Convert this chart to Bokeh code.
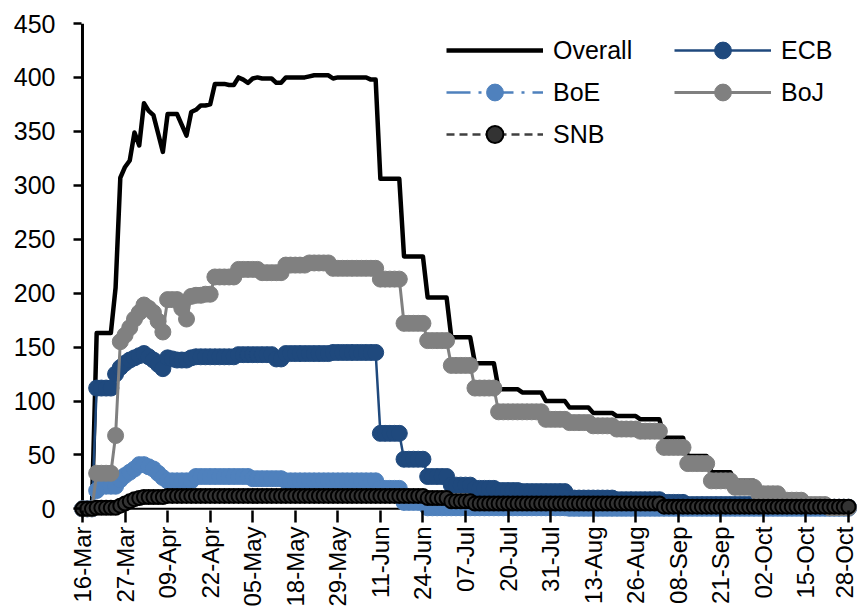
import numpy as np
from bokeh.plotting import figure
from bokeh.models import Range1d, FixedTicker, Span, Legend, LegendItem
from bokeh.embed import file_html
from bokeh.resources import INLINE

# x axis: business days from 16-Mar to 28-Oct (163 days), labelled every 9th day
tick_labels = ["16-Mar", "27-Mar", "09-Apr", "22-Apr", "05-May", "18-May", "29-May",
               "11-Jun", "24-Jun", "07-Jul", "20-Jul", "31-Jul", "13-Aug", "26-Aug",
               "08-Sep", "21-Sep", "02-Oct", "15-Oct", "28-Oct"]
y_ticks = [0, 50, 100, 150, 200, 250, 300, 350, 400, 450]

overall = [0, 0, 0, 163, 163, 163, 163, 205, 307, 317,
           323, 349, 337, 376, 369, 365, 348, 331, 366, 366,
           366, 356, 346, 368, 370, 374, 374, 375, 394, 394,
           394, 393, 393, 400, 398, 395, 399, 400, 399, 399,
           399, 395, 395, 400, 400, 400, 400, 400, 401, 402,
           402, 402, 402, 399, 400, 400, 400, 400, 400, 400,
           400, 398, 398, 306, 306, 306, 306, 306, 234, 234,
           234, 234, 234, 196, 196, 196, 196, 196, 159, 159,
           159, 159, 159, 135, 135, 135, 135, 135, 111, 111,
           111, 111, 111, 108, 108, 108, 108, 108, 100, 100,
           100, 100, 100, 94, 94, 94, 94, 94, 89, 89,
           89, 89, 89, 86, 86, 86, 86, 86, 83, 83,
           83, 83, 83, 66, 66, 66, 66, 66, 49, 49,
           49, 49, 49, 34, 34, 34, 34, 34, 26, 26,
           26, 26, 26, 19, 19, 19, 19, 19, 12, 12,
           12, 12, 12, 7, 7, 7, 7, 7, 4, 4,
           4, 4, 4]

ecb = [0, 0, 0, 112, 112, 112, 112, 125, 131, 135,
       138, 140, 142, 144, 141, 138, 134, 130, 140, 139,
       138, 138, 138, 140, 141, 141, 141, 141, 141, 141,
       141, 141, 141, 143, 143, 143, 143, 143, 143, 143,
       143, 139, 139, 144, 144, 144, 144, 144, 144, 144,
       144, 144, 144, 145, 145, 145, 145, 145, 145, 145,
       145, 145, 145, 70, 70, 70, 70, 70, 46, 46,
       46, 46, 46, 30, 30, 30, 30, 30, 22, 22,
       22, 22, 22, 19, 19, 19, 19, 19, 17, 17,
       17, 17, 17, 16, 16, 16, 16, 16, 16, 16,
       16, 16, 16, 10, 10, 10, 10, 10, 10, 10,
       10, 10, 10, 8.5, 8.5, 8.5, 8.5, 8.5, 8.5, 8.5,
       8.5, 8.5, 8.5, 6, 6, 6, 6, 6, 4, 4,
       4, 4, 4, 4, 4, 4, 4, 4, 4, 4,
       4, 4, 4, 1.5, 1.5, 1.5, 1.5, 1.5, 1.5, 1.5,
       1.5, 1.5, 1.5, 1.5, 1.5, 1.5, 1.5, 1.5, 1.5, 1.5,
       1.5, 1.5, 1.5]

boe = [0, 0, 0, 17, 21, 21, 21, 21, 27, 31,
       34, 37, 41, 41, 39, 37, 33, 29, 26, 26,
       26, 26, 26, 26, 30, 30, 30, 30, 30, 30,
       30, 30, 30, 30, 30, 30, 28, 28, 28, 28,
       28, 28, 28, 26, 26, 26, 26, 26, 26, 26,
       26, 26, 26, 26, 26, 26, 26, 26, 26, 26,
       26, 26, 26, 19, 19, 19, 19, 19, 6, 6,
       6, 6, 6, 1, 1, 1, 1, 1, 1, 1,
       1, 1, 1, 1, 1, 1, 1, 1, 1, 1,
       1, 1, 1, 1, 1, 1, 1, 1, 1, 1,
       1, 1, 1, 0.5, 0.5, 0.5, 0.5, 0.5, 0.5, 0.5,
       0.5, 0.5, 0.5, 0.5, 0.5, 0.5, 0.5, 0.5, 0.5, 0.5,
       0.5, 0.5, 0.5, 0.5, 0.5, 0.5, 0.5, 0.5, 0.5, 0.5,
       0.5, 0.5, 0.5, 0.5, 0.5, 0.5, 0.5, 0.5, 0.5, 0.5,
       0.5, 0.5, 0.5, 0.5, 0.5, 0.5, 0.5, 0.5, 0.5, 0.5,
       0.5, 0.5, 0.5, 0.5, 0.5, 0.5, 0.5, 0.5, 0.5, 0.5,
       0.5, 0.5, 0.5]

boj = [0, 0, 0, 33, 33, 33, 33, 68, 155, 161,
       168, 176, 182, 189, 186, 182, 174, 164, 194, 194,
       194, 186, 176, 197, 198, 198, 199, 199, 215, 215,
       215, 215, 215, 222, 222, 222, 222, 222, 219, 219,
       219, 219, 219, 226, 226, 226, 226, 226, 228, 228,
       228, 228, 228, 223, 223, 223, 223, 223, 223, 223,
       223, 223, 223, 213, 213, 213, 213, 213, 172, 172,
       172, 172, 172, 156, 156, 156, 156, 156, 133, 133,
       133, 133, 133, 112, 112, 112, 112, 112, 90, 90,
       90, 90, 90, 90, 90, 90, 90, 90, 83, 83,
       83, 83, 83, 80, 80, 80, 80, 80, 77, 77,
       77, 77, 77, 74, 74, 74, 74, 74, 72, 72,
       72, 72, 72, 57, 57, 57, 57, 57, 42, 42,
       42, 42, 42, 26, 26, 26, 26, 26, 20, 20,
       20, 20, 20, 14, 14, 14, 14, 14, 8, 8,
       8, 8, 8, 4, 4, 4, 4, 4, 1, 1,
       1, 1, 1]

snb = [0, 0, 0, 1, 1, 1, 1, 1, 3, 5,
       7, 9, 10, 11, 11, 11, 11, 11, 12, 12,
       12, 12, 12, 12, 12, 12, 12, 12, 12, 12,
       12, 12, 12, 12, 12, 12, 12, 12, 12, 12,
       12, 12, 12, 12, 12, 12, 12, 12, 12, 12,
       12, 12, 12, 12, 12, 12, 12, 12, 12, 12,
       12, 12, 12, 12, 12, 12, 12, 12, 12, 12,
       12, 12, 12, 10, 10, 10, 10, 10, 7, 7,
       7, 7, 7, 5, 5, 5, 5, 5, 5, 5,
       5, 5, 5, 5, 5, 5, 5, 5, 5, 5,
       5, 5, 5, 5, 5, 5, 5, 5, 5, 5,
       5, 5, 5, 5, 5, 5, 5, 5, 5, 5,
       5, 5, 5, 2, 2, 2, 2, 2, 2, 2,
       2, 2, 2, 2, 2, 2, 2, 2, 2, 2,
       2, 2, 2, 2, 2, 2, 2, 2, 2, 2,
       2, 2, 2, 2, 2, 2, 2, 2, 2, 2,
       2, 2, 2]

days = list(range(len(overall)))
tick_pos = [days[k] for k in range(0, len(days), 9)]

FONT = "Liberation Sans"

p = figure(frame_width=784, frame_height=494,
           x_range=Range1d(-1.9, 163.9), y_range=Range1d(-8, 450),
           output_backend="svg", toolbar_location=None,
           min_border_left=73, min_border_right=0,
           min_border_top=23, min_border_bottom=90)
p.outline_line_color = None
p.grid.visible = False
p.background_fill_color = "white"
p.border_fill_color = "white"

# axis lines (beneath series)
p.add_layout(Span(location=0, dimension="height", line_color="black",
                  line_width=3, level="underlay"))
p.add_layout(Span(location=0, dimension="width", line_color="black",
                  line_width=2, level="underlay"))

r_all = p.line(days, overall, line_color="black", line_width=4.5, line_join="round")

ecb_col = "#1F497D"
r_ecb_l = p.line(days, ecb, line_color=ecb_col, line_width=2.5)
r_ecb_m = p.scatter(days, ecb, marker="circle", size=16, fill_color=ecb_col, line_color=ecb_col)

boe_col = "#4F81BD"
r_boe_l = p.line(days, boe, line_color=boe_col, line_width=2.5, line_dash="24 8 3 8")
r_boe_m = p.scatter(days, boe, marker="circle", size=16, fill_color=boe_col, line_color=boe_col)

boj_col = "#808080"
r_boj_l = p.line(days, boj, line_color=boj_col, line_width=3)
r_boj_m = p.scatter(days, boj, marker="circle", size=16, fill_color=boj_col, line_color=boj_col)

snb_col = "#404040"
r_snb_l = p.line(days, snb, line_color=snb_col, line_width=2.5, line_dash="8 5")
r_snb_m = p.scatter(days, snb, marker="circle", size=14, fill_color="#333333",
                    line_color="black", line_width=2)

# axes
xa = p.xaxis[0]
xa.ticker = FixedTicker(ticks=tick_pos, minor_ticks=[])
xa.major_label_overrides = {t: l for t, l in zip(tick_pos, tick_labels)}
xa.major_label_orientation = np.pi / 2
xa.axis_line_color = None
xa.major_tick_in = 7
xa.major_tick_out = 5
xa.major_tick_line_width = 2.5
xa.major_tick_line_color = "black"
xa.major_label_standoff = 4
xa.major_label_text_font = FONT
xa.major_label_text_font_size = "24px"
xa.major_label_text_color = "black"

ya = p.yaxis[0]
ya.ticker = FixedTicker(ticks=y_ticks, minor_ticks=[])
ya.axis_line_color = None
ya.major_tick_in = 8
ya.major_tick_out = 0
ya.major_tick_line_width = 2.5
ya.major_tick_line_color = "black"
ya.major_label_standoff = 18
ya.major_label_text_font = FONT
ya.major_label_text_font_size = "25px"
ya.major_label_text_color = "black"

leg_style = dict(orientation="vertical", glyph_width=97, glyph_height=42,
                 label_height=42, spacing=0, padding=0, margin=0,
                 label_standoff=10, border_line_color=None,
                 background_fill_alpha=0, label_text_font=FONT,
                 label_text_font_size="25px", label_text_color="black")

leg_a = Legend(items=[LegendItem(label="Overall", renderers=[r_all]),
                      LegendItem(label="BoE", renderers=[r_boe_l, r_boe_m]),
                      LegendItem(label="SNB", renderers=[r_snb_l, r_snb_m])],
               location=(373, 362), **leg_style)
leg_b = Legend(items=[LegendItem(label="ECB", renderers=[r_ecb_l, r_ecb_m]),
                      LegendItem(label="BoJ", renderers=[r_boj_l, r_boj_m])],
               location=(601, 404), **leg_style)
p.add_layout(leg_a)
p.add_layout(leg_b)

open("out.html", "w").write(file_html(p, INLINE))
